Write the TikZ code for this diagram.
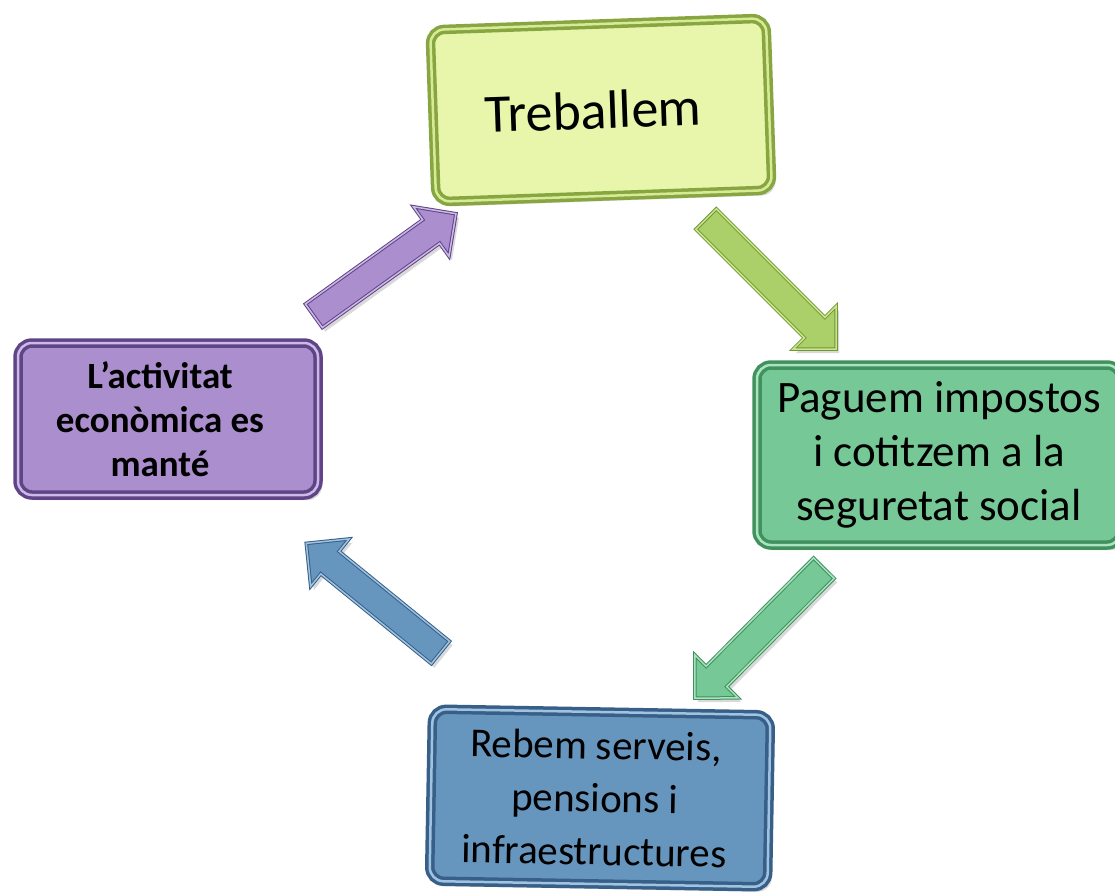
\documentclass[tikz,border=0pt]{standalone}
\usepackage{fontspec}
\setmainfont{Carlito}
\usetikzlibrary{shapes.arrows,shadows}
\definecolor{yelFill}{RGB}{232,246,172}
\definecolor{yelDark}{RGB}{135,165,65}
\definecolor{yelLight}{RGB}{215,235,150}
\definecolor{grnFill}{RGB}{118,200,150}
\definecolor{grnDark}{RGB}{65,145,95}
\definecolor{grnLight}{RGB}{170,228,190}
\definecolor{purFill}{RGB}{170,142,205}
\definecolor{purDark}{RGB}{95,68,135}
\definecolor{purLight}{RGB}{205,185,230}
\definecolor{bluFill}{RGB}{102,150,190}
\definecolor{bluDark}{RGB}{55,95,135}
\definecolor{bluLight}{RGB}{160,195,225}
\definecolor{ayFill}{RGB}{172,208,105}
\definecolor{ayDark}{RGB}{115,150,55}
\definecolor{ayLight}{RGB}{200,228,140}
\tikzset{
  boxbase/.style={rounded corners=14pt, line width=3.5pt, double distance=2.5pt,
    align=center, text=black, inner sep=0pt,
    drop shadow={opacity=0.3, shadow xshift=4pt, shadow yshift=-5pt}},
  boxyel/.style={boxbase, fill=yelFill, draw=yelDark, double=yelLight},
  boxgrn/.style={boxbase, fill=grnFill, draw=grnDark, double=grnLight},
  boxpur/.style={boxbase, fill=purFill, draw=purDark, double=purLight},
  boxblu/.style={boxbase, fill=bluFill, draw=bluDark, double=bluLight},
  blockarrow/.style={single arrow, inner xsep=0pt, inner ysep=14pt,
    single arrow head extend=16pt, midway, sloped, allow upside down,
    line width=1pt, double distance=1.5pt,
    drop shadow={opacity=0.3, shadow xshift=3pt, shadow yshift=-4pt}},
  arryel/.style={blockarrow, fill=ayFill, draw=ayDark, double=ayLight},
  arrgrn/.style={blockarrow, fill=grnFill, draw=grnDark, double=grnLight},
  arrblu/.style={blockarrow, fill=bluFill, draw=bluDark, double=bluLight},
  arrpur/.style={blockarrow, fill=purFill, draw=purDark, double=purLight},
}
\begin{document}
\begin{tikzpicture}[x=1pt,y=-1pt]
\useasboundingbox (0,0) rectangle (1115,893);
% boxes
\node[boxyel, minimum width=336pt, minimum height=172pt, rotate=2,
  font=\fontsize{54}{64}\selectfont] (t) at (601,110) {Treballem\kern16pt};
\node[boxgrn, minimum width=364pt, minimum height=180pt,
  font=\fontsize{45}{54}\selectfont] (p) at (939,455)
  {Paguem impostos\\i cotitzem a la\\seguretat social};
\node[boxblu, minimum width=338pt, minimum height=172pt, rotate=-1,
  font=\fontsize{41}{53}\selectfont] (r) at (600,798)
  {Rebem serveis,\kern10pt\\pensions i\kern10pt\\infraestructures\kern10pt};
\node[boxpur, minimum width=300pt, minimum height=152pt,
  font=\fontsize{37}{44}\selectfont\bfseries] (l) at (168,419)
  {L’activitat\kern16pt\\econòmica es\kern16pt\\manté\kern16pt};
% arrow end points
\coordinate (a1s) at (701,214); \coordinate (a1e) at (831,344);
\coordinate (a2s) at (829,563); \coordinate (a2e) at (700,693);
\coordinate (a3s) at (446,657); \coordinate (a3e) at (312,548);
\coordinate (a4s) at (308,320); \coordinate (a4e) at (450,218);
% arrows
\path (a1s) -- (a1e) node[arryel, minimum height=184pt] (ar1) {};
\path (a2s) -- (a2e) node[arrgrn, minimum height=183pt] (ar2) {};
\path (a3s) -- (a3e) node[arrblu, minimum height=173pt] (ar3) {};
\path (a4s) -- (a4e) node[arrpur, minimum height=175pt] (ar4) {};
\end{tikzpicture}
\end{document}
